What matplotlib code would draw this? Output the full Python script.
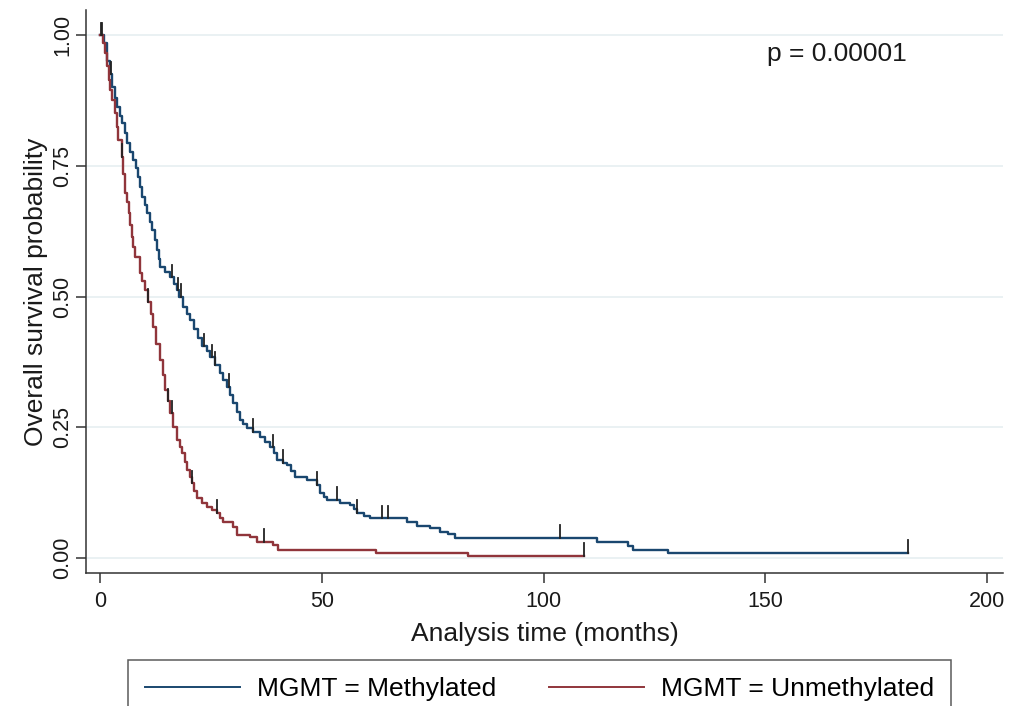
import numpy as np
import matplotlib
matplotlib.use("Agg")
import matplotlib.pyplot as plt

plt.rcParams['font.family'] = ['Liberation Sans', 'DejaVu Sans']

# Kaplan-Meier steps: time (months) where each level starts
meth_t = [0, 0.8, 1.5, 2.2, 2.7, 3.3, 3.8, 4.4, 4.9, 5.5, 6.1, 6.8, 7.4, 8.0, 8.6,
          9.1, 9.5, 10.1, 10.6, 11.2, 11.7, 12.3, 12.8, 13.2, 13.5, 14.6, 15.8,
          16.6, 17.3, 17.8, 18.7, 19.5, 20.3, 21.2, 22.1, 23.0, 24.0, 24.8, 25.9,
          27.0, 27.8, 28.6, 29.3, 30.0, 30.8, 31.6, 32.3, 33.1, 34.5, 36.1, 37.2,
          38.3, 39.1, 39.9, 41.3, 42.2, 43.1, 44.0, 46.7, 48.9, 49.6, 50.4, 51.2,
          54.0, 56.4, 57.2, 58.0, 59.5, 60.9, 69.2, 71.5, 74.4, 76.7, 78.5, 80.0,
          112.0, 119.0, 120.2, 128.0, 182.2]
meth_s = [1.000, 0.985, 0.950, 0.925, 0.900, 0.880, 0.862, 0.846, 0.831, 0.812,
          0.793, 0.776, 0.761, 0.745, 0.729, 0.710, 0.690, 0.675, 0.660, 0.643,
          0.627, 0.608, 0.589, 0.572, 0.556, 0.547, 0.537, 0.524, 0.512, 0.499,
          0.480, 0.467, 0.455, 0.438, 0.421, 0.405, 0.395, 0.384, 0.369, 0.354,
          0.340, 0.327, 0.311, 0.296, 0.280, 0.264, 0.256, 0.249, 0.241, 0.231,
          0.222, 0.212, 0.200, 0.187, 0.182, 0.178, 0.166, 0.155, 0.149, 0.140,
          0.125, 0.117, 0.111, 0.106, 0.101, 0.094, 0.086, 0.080, 0.076, 0.068,
          0.062, 0.057, 0.050, 0.045, 0.039, 0.031, 0.023, 0.015, 0.0096, 0.0096]

unmeth_t = [0, 0.6, 1.1, 1.5, 1.9, 2.3, 2.7, 3.4, 3.8, 4.1, 4.9, 5.2, 5.6, 6.0,
            6.4, 6.8, 7.1, 7.5, 7.9, 9.0, 9.5, 10.1, 10.8, 11.4, 12.0, 12.7, 13.5,
            14.1, 14.7, 15.3, 15.8, 16.5, 17.3, 18.0, 18.5, 19.1, 19.6, 20.2, 20.7,
            21.2, 21.8, 22.9, 24.1, 25.2, 26.4, 27.1, 27.7, 30.0, 30.8, 33.8, 35.3,
            39.0, 40.0, 62.2, 83.0, 109.0]
unmeth_s = [1.000, 0.985, 0.966, 0.940, 0.914, 0.895, 0.876, 0.851, 0.825, 0.799,
            0.767, 0.735, 0.698, 0.680, 0.660, 0.637, 0.614, 0.595, 0.576, 0.545,
            0.530, 0.512, 0.490, 0.466, 0.442, 0.410, 0.379, 0.350, 0.321, 0.300,
            0.277, 0.250, 0.226, 0.212, 0.200, 0.184, 0.168, 0.155, 0.143, 0.128,
            0.115, 0.106, 0.098, 0.092, 0.086, 0.077, 0.069, 0.059, 0.044, 0.040,
            0.031, 0.025, 0.015, 0.0096, 0.004, 0.004]

# censoring times
meth_cens = [0.5, 2.5, 16.2, 17.6, 18.3, 23.5, 25.2, 26.0, 29.0, 34.5, 39.0, 41.3,
             48.9, 53.5, 58.0, 63.5, 65.0, 103.7, 182.2]
unmeth_cens = [0.3, 4.9, 10.8, 15.3, 16.2, 20.7, 26.4, 37.0, 109.0]

labels = ["MGMT = Methylated", "MGMT = Unmethylated"]
colors = ["#1a476f", "#90353b"]
p_text = "p = 0.00001"


def level_at(ts, ss, t):
    i = np.searchsorted(ts, t, side="right") - 1
    return ss[max(i, 0)]


fig = plt.figure(figsize=(10.10, 7.06), dpi=100)
ax = fig.add_axes([0.0851, 0.1884, 0.908, 0.7975])

for y in [0, 0.25, 0.5, 0.75, 1.0]:
    ax.axhline(y, color="#e6eff1", lw=1.2, zorder=0)

groups = [(meth_t, meth_s, meth_cens), (unmeth_t, unmeth_s, unmeth_cens)]
for (ts, ss, cens), lab, col in zip(groups, labels, colors):
    ax.plot(ts, ss, drawstyle="steps-post", color=col, lw=1.7, label=lab, zorder=3)
    for c in cens:
        s = level_at(ts, ss, c)
        ax.plot([c, c], [s, s + 0.024], color="#222222", lw=1.3, zorder=4)

ax.set_xlim(-3.2, 203.6)
ax.set_ylim(-0.0287, 1.048)
ax.set_xticks([0, 50, 100, 150, 200])
ax.set_yticks([0, 0.25, 0.5, 0.75, 1.0])
ax.set_yticklabels(["0.00", "0.25", "0.50", "0.75", "1.00"], rotation=90, va="center")
ax.tick_params(axis="both", labelsize=15.5, length=7, width=1.1, color="#333333",
               labelcolor="#1a1a1a")
ax.tick_params(axis="x", pad=6)
ax.tick_params(axis="y", pad=2)
for side in ["top", "right"]:
    ax.spines[side].set_visible(False)
for side in ["left", "bottom"]:
    ax.spines[side].set_color("#333333")
    ax.spines[side].set_linewidth(1.1)

ax.set_xlabel("Analysis time (months)", fontsize=19, color="#1a1a1a", labelpad=7)
ax.set_ylabel("Overall survival probability", fontsize=19, color="#1a1a1a", labelpad=3)
ax.text(150.4, 0.963, p_text, fontsize=19, color="#1a1a1a", va="center", ha="left")

leg = fig.legend(loc="upper left", bbox_to_anchor=(128 / 1010, 1 - 660 / 706), ncol=2,
                 fontsize=19, frameon=True, fancybox=False, edgecolor="#333333",
                 handlelength=3.6, handletextpad=0.65, columnspacing=1.97,
                 borderpad=0.65, borderaxespad=0)
leg.get_frame().set_linewidth(1.1)
for h in leg.legend_handles:
    h.set_linewidth(1.4)

fig.savefig("out.png", dpi=100)
